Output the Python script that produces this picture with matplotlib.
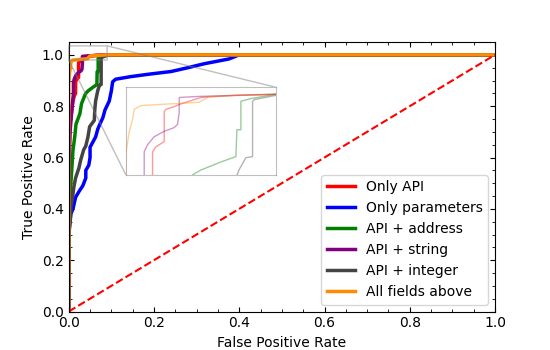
import numpy as np
import matplotlib
matplotlib.use("Agg")
import matplotlib.pyplot as plt

# ROC curves (FPR, TPR)
labels = ["Only API", "Only parameters", "API + address", "API + string",
          "API + integer", "All fields above"]
colors = ["red", "blue", "green", "purple", "#444444", "darkorange"]

fpr_api = [0, 0, 0.003, 0.01, 0.013, 0.016, 0.016, 0.018, 0.023, 0.023, 0.024,
           0.029, 0.032, 0.045, 0.065, 0.09, 1.0]
tpr_api = [0, 0.6, 0.73, 0.82, 0.84, 0.85, 0.893, 0.902, 0.912, 0.968, 0.972,
           0.977, 0.981, 0.994, 0.998, 1.0, 1.0]

fpr_par = [0, 0, 0.005, 0.01, 0.016, 0.025, 0.033, 0.04, 0.04, 0.047, 0.05, 0.05,
           0.063, 0.068, 0.073, 0.08, 0.085, 0.095, 0.1, 0.103, 0.11, 0.145,
           0.19, 0.24, 0.28, 0.317, 0.376, 0.4, 1.0]
tpr_par = [0, 0.3, 0.38, 0.4, 0.445, 0.47, 0.49, 0.52, 0.55, 0.57, 0.6, 0.64,
           0.68, 0.71, 0.73, 0.755, 0.785, 0.82, 0.86, 0.895, 0.905, 0.915,
           0.925, 0.935, 0.95, 0.965, 0.984, 1.0, 1.0]

fpr_addr = [0, 0, 0.002, 0.005, 0.007, 0.01, 0.014, 0.017, 0.026, 0.03, 0.038,
            0.04, 0.045, 0.057, 0.066, 0.0666, 0.069, 0.069, 0.075, 0.09, 1.0]
tpr_addr = [0, 0.15, 0.4, 0.5, 0.55, 0.63, 0.68, 0.73, 0.77, 0.81, 0.843,
            0.85, 0.859, 0.874, 0.884, 0.934, 0.934, 0.987, 0.992, 1.0, 1.0]

fpr_str = [0, 0, 0.003, 0.008, 0.011, 0.011, 0.013, 0.017, 0.023, 0.029, 0.031,
           0.032, 0.032, 0.044, 0.089, 1.0]
tpr_str = [0, 0.5, 0.7, 0.8, 0.85, 0.893, 0.906, 0.921, 0.931, 0.938, 0.944,
           0.966, 0.994, 0.996, 1.0, 1.0]

fpr_int = [0, 0, 0.004, 0.005, 0.009, 0.012, 0.016, 0.024, 0.028, 0.035, 0.04,
           0.045, 0.049, 0.06, 0.061, 0.063, 0.068, 0.072, 0.076, 0.076, 0.077,
           0.09, 0.1, 1.0]
tpr_int = [0, 0.3, 0.37, 0.41, 0.445, 0.485, 0.52, 0.56, 0.59, 0.63, 0.645,
           0.68, 0.72, 0.745, 0.785, 0.82, 0.86, 0.882, 0.884, 0.987, 0.99,
           0.998, 1.0, 1.0]

fpr_all = [0, 0, 0.002, 0.004, 0.005, 0.009, 0.032, 0.044, 0.05, 0.09, 1.0]
tpr_all = [0, 0.89, 0.93, 0.953, 0.972, 0.979, 0.983, 0.985, 0.996, 1.0, 1.0]

curves = [(fpr_api, tpr_api), (fpr_par, tpr_par), (fpr_addr, tpr_addr),
          (fpr_str, tpr_str), (fpr_int, tpr_int), (fpr_all, tpr_all)]

# zoom window
zoom_x = (0, 0.09)
zoom_y = (0.85, 1.013)
mark_bounds = [0, 0.98, 0.09, 0.055]

fig, ax = plt.subplots(figsize=(5.5, 3.5), dpi=100)

for (fx, ty), lab, c in zip(curves, labels, colors):
    ax.plot(fx, ty, color=c, lw=2.5, label=lab)
ax.plot([0, 1], [0, 1], color="red", lw=1.5, ls="--")

ax.set_xlim(0, 1)
ax.set_ylim(0, 1.05)
ax.set_xlabel("False Positive Rate")
ax.set_ylabel("True Positive Rate")
ax.minorticks_on()
ax.tick_params(which="both", direction="in", top=True, right=True)
ax.legend(loc="lower right")

# inset
axins = ax.inset_axes([0.134, 0.507, 0.352, 0.325])
for (fx, ty), c in zip(curves, colors):
    axins.plot(fx, ty, color=c, lw=1, alpha=0.4)
axins.set_xlim(*zoom_x)
axins.set_ylim(*zoom_y)
axins.set_xticks([])
axins.set_yticks([])
for s in axins.spines.values():
    s.set_edgecolor("0.5")
    s.set_alpha(0.5)
ax.indicate_inset(bounds=mark_bounds, inset_ax=axins, edgecolor="0.5", alpha=0.5)

fig.savefig("out.png", dpi=100)
